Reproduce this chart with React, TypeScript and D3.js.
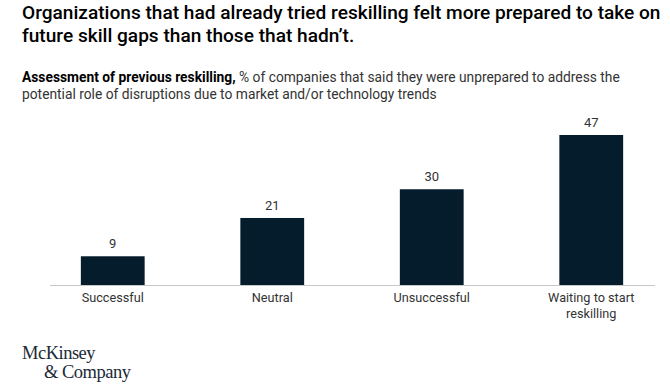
import { useRef, useEffect } from 'react';
import * as d3 from 'd3';

const categories = ['Successful', 'Neutral', 'Unsuccessful', 'Waiting to start reskilling'];
const values = [9, 21, 30, 47];
const labelLines = [['Successful'], ['Neutral'], ['Unsuccessful'], ['Waiting to start', 'reskilling']];

const titleLines = [
  'Organizations that had already tried reskilling felt more prepared to take on',
  'future skill gaps than those that hadn\u2019t.',
];

export default function App() {
  const svgRef = useRef<SVGSVGElement>(null);

  useEffect(() => {
    if (!svgRef.current) return;
    const width = 670;
    const height = 390;
    const svg = d3.select(svgRef.current);
    svg.selectAll('*').remove();
    svg.attr('width', width).attr('height', height);

    const font = 'Roboto, "Noto Sans", sans-serif';

    // Title
    svg.selectAll('text.title')
      .data(titleLines)
      .join('text')
      .attr('class', 'title')
      .attr('x', 22)
      .attr('y', (d, i) => 19 + i * 23)
      .attr('font-family', font)
      .attr('font-weight', 500)
      .attr('font-size', '19.1px')
      .attr('fill', '#000')
      .text(d => d);

    // Subtitle
    const sub = svg.append('text')
      .attr('x', 22)
      .attr('y', 82)
      .attr('font-family', font)
      .attr('font-size', '13.8px')
      .attr('fill', '#333');
    sub.append('tspan').attr('font-weight', 700).attr('fill', '#000').text('Assessment of previous reskilling,');
    sub.append('tspan').text(' % of companies that said they were unprepared to address the');
    svg.append('text')
      .attr('x', 22)
      .attr('y', 99)
      .attr('font-family', font)
      .attr('font-size', '13.8px')
      .attr('fill', '#333')
      .text('potential role of disruptions due to market and/or technology trends');

    const x = d3.scaleBand<string>()
      .domain(categories)
      .range([34, 672])
      .paddingInner(0.6)
      .paddingOuter(0.3);

    const y = d3.scaleLinear()
      .domain([0, 47])
      .range([285, 135]);

    // Baseline
    svg.append('line')
      .attr('x1', 50)
      .attr('x2', 655)
      .attr('y1', y(0) + 0.5)
      .attr('y2', y(0) + 0.5)
      .attr('stroke', '#c8c8c8')
      .attr('stroke-width', 1);

    // Bars
    svg.selectAll('rect.bar')
      .data(values)
      .join('rect')
      .attr('class', 'bar')
      .attr('x', (d, i) => x(categories[i])! - 1)
      .attr('y', d => y(d))
      .attr('width', x.bandwidth())
      .attr('height', d => y(0) - y(d))
      .attr('fill', '#051c2c');

    // Value labels
    svg.selectAll('text.value')
      .data(values)
      .join('text')
      .attr('class', 'value')
      .attr('x', (d, i) => x(categories[i])! - 1 + x.bandwidth() / 2)
      .attr('y', d => y(d) - 8)
      .attr('text-anchor', 'middle')
      .attr('font-family', font)
      .attr('font-size', '13px')
      .attr('fill', '#333')
      .text(d => d);

    // Category labels
    labelLines.forEach((lines, i) => {
      const cx = x(categories[i])! - 1 + x.bandwidth() / 2;
      const t = svg.append('text')
        .attr('x', cx)
        .attr('y', 302)
        .attr('text-anchor', 'middle')
        .attr('font-family', font)
        .attr('font-size', '12.7px')
        .attr('fill', '#333');
      lines.forEach((l, j) => {
        t.append('tspan')
          .attr('x', cx)
          .attr('dy', j === 0 ? 0 : 15.5)
          .text(l);
      });
    });

    // Logo
    const serif = '"Liberation Serif", "DejaVu Serif", serif';
    svg.append('text')
      .attr('x', 22)
      .attr('y', 359)
      .attr('font-family', serif)
      .attr('font-size', '18.5px')
      .attr('letter-spacing', '-0.5px')
      .attr('fill', '#1b2a38')
      .text('McKinsey');
    svg.append('text')
      .attr('x', 44)
      .attr('y', 378)
      .attr('font-family', serif)
      .attr('font-size', '18.5px')
      .attr('letter-spacing', '-0.5px')
      .attr('fill', '#1b2a38')
      .text('& Company');
  }, []);

  return (
    <svg ref={svgRef} style={{ position: 'absolute', left: 0, top: 0, display: 'block' }} />
  );
}
